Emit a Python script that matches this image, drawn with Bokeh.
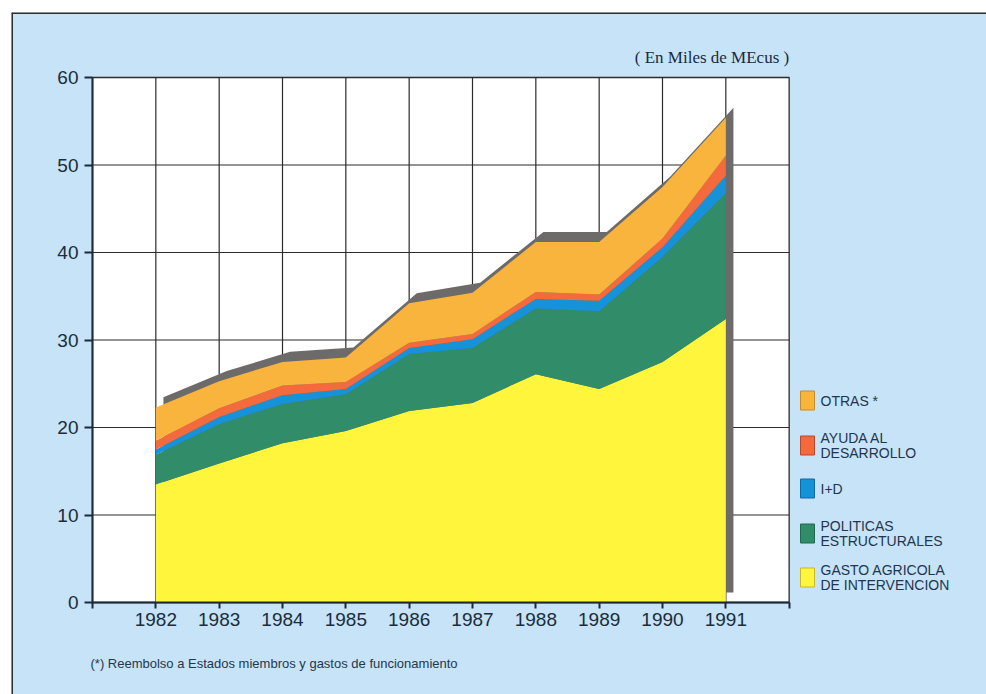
from bokeh.plotting import figure
from bokeh.models import ColumnDataSource, FixedTicker, Range1d, Span
from bokeh.core.properties import value
from bokeh.embed import file_html
from bokeh.resources import INLINE

# ---------------- data (thousands of MEcus) ----------------
YEARS = [1982, 1983, 1984, 1985, 1986, 1987, 1988, 1989, 1990, 1991]
GASTO_AGRICOLA = [13.5, 15.9, 18.2, 19.6, 21.9, 22.8, 26.1, 24.4, 27.5, 32.4]
POLITICAS_ESTRUCTURALES = [3.4, 4.5, 4.5, 4.2, 6.5, 6.3, 7.5, 8.9, 12.0, 14.4]
I_D = [0.6, 0.8, 1.0, 0.6, 0.7, 1.0, 1.1, 1.2, 1.1, 2.0]
AYUDA_DESARROLLO = [1.0, 1.0, 1.1, 0.8, 0.6, 0.6, 0.8, 0.7, 1.0, 2.3]
OTRAS = [3.8, 3.1, 2.7, 2.8, 4.5, 4.7, 5.7, 6.0, 5.9, 4.3]

X_TICKS = [1981, 1982, 1983, 1984, 1985, 1986, 1987, 1988, 1989, 1990, 1991, 1992]
Y_TICKS = [0, 10, 20, 30, 40, 50, 60]

SERIES_KEYS = ["gasto", "politicas", "id", "ayuda", "otras"]
LEGEND_LABELS = [
    ["OTRAS *"],
    ["AYUDA AL", "DESARROLLO"],
    ["I+D"],
    ["POLITICAS", "ESTRUCTURALES"],
    ["GASTO AGRICOLA", "DE INTERVENCION"],
]
UNITS_TEXT = "( En Miles de MEcus )"
FOOTNOTE = "(*) Reembolso a Estados miembros y gastos de funcionamiento"

# ---------------- styles ----------------
COLORS = ["#fff53c", "#318c69", "#1592d8", "#f46a3c", "#f9b43d"]
EDGE_COLORS = ["#c9b82a", "#1f6a4c", "#0d6aa5", "#b9482a", "#c98a2a"]
BG = "#c6e3f8"
SHADOW = "#6d6a6a"
GRID = "#2b2b2b"
TEXT = "#1f3550"

# layout (canvas pixels)
W, H = 986, 694
FRAME_LEFT, FRAME_TOP = 11, 12
AXIS_X_PX, AXIS_Y_PX = 92, 602          # canvas position of (1981, 0)
PX_PER_YEAR = 570 / 9.0
PX_PER_UNIT = 8.75

x_start = X_TICKS[0] - (AXIS_X_PX - FRAME_LEFT) / PX_PER_YEAR
x_end = x_start + (W - FRAME_LEFT) / PX_PER_YEAR
y_end = (AXIS_Y_PX - FRAME_TOP) / PX_PER_UNIT
y_start = y_end - (H - FRAME_TOP) / PX_PER_UNIT


def dx(px):
    return X_TICKS[0] + (px - AXIS_X_PX) / PX_PER_YEAR


def dy(py):
    return (AXIS_Y_PX - py) / PX_PER_UNIT


p = figure(width=W, height=H, output_backend="svg", toolbar_location=None,
           title=None,
           x_range=Range1d(x_start, x_end), y_range=Range1d(y_start, y_end),
           min_border_left=FRAME_LEFT, min_border_top=FRAME_TOP,
           min_border_right=0, min_border_bottom=0,
           border_fill_color="white", background_fill_color=BG,
           outline_line_color=None)

p.xgrid.visible = False
p.ygrid.visible = False

x_min, x_max = X_TICKS[0], X_TICKS[-1]
y_min, y_max = Y_TICKS[0], Y_TICKS[-1]

# white plotting area
p.quad(left=[x_min], right=[x_max], bottom=[y_min], top=[y_max],
       fill_color="white", line_color=GRID, line_width=1.3)

# grid lines
p.segment(x0=YEARS, x1=YEARS, y0=[y_min] * len(YEARS), y1=[y_max] * len(YEARS),
          line_color=GRID, line_width=1.2)
inner_y = Y_TICKS[1:-1]
p.segment(x0=[x_min] * len(inner_y), x1=[x_max] * len(inner_y), y0=inner_y, y1=inner_y,
          line_color=GRID, line_width=1.2)

# 3D shadow behind the stack
series = [GASTO_AGRICOLA, POLITICAS_ESTRUCTURALES, I_D, AYUDA_DESARROLLO, OTRAS]
totals = [sum(v) for v in zip(*series)]
SH_DX, SH_DY = 0.12, 1.15
p.varea(x=[y + SH_DX for y in YEARS], y1=[SH_DY] * len(YEARS),
        y2=[t + SH_DY for t in totals], fill_color=SHADOW)

# stacked areas
src = ColumnDataSource(dict(year=YEARS, gasto=GASTO_AGRICOLA, politicas=POLITICAS_ESTRUCTURALES,
                            id=I_D, ayuda=AYUDA_DESARROLLO, otras=OTRAS))
p.varea_stack(stackers=SERIES_KEYS, x="year", color=COLORS, source=src)

# axes
ax = p.xaxis[0]
ax.fixed_location = y_min
ax.bounds = (x_min, x_max)
ax.ticker = FixedTicker(ticks=X_TICKS)
ax.major_label_overrides = {X_TICKS[0]: "", X_TICKS[-1]: ""}
ay = p.yaxis[0]
ay.fixed_location = x_min
ay.bounds = (y_min, y_max)
ay.ticker = FixedTicker(ticks=Y_TICKS)
for a in (ax, ay):
    a.axis_line_color = "#1c2a38"
    a.axis_line_width = 2
    a.major_tick_line_color = "#1c2a38"
    a.major_tick_line_width = 2
    a.major_tick_in = 0
    a.minor_tick_line_color = None
    a.major_label_text_font = "Liberation Sans"
    a.major_label_text_font_size = "19px"
    a.major_label_text_color = "#1c2c3c"
ax.major_tick_out = 6
ax.major_label_standoff = 4
ay.major_tick_out = 8
ay.major_label_standoff = 6

# legend (drawn at the right of the plotting area)
leg_x = dx(807)
leg_text_x = dx(820)
leg_y = [dy(v) for v in (400, 445, 488, 533, 577)]
legend_colors = COLORS[::-1]
legend_edges = EDGE_COLORS[::-1]
p.rect(x=[leg_x] * 5, y=leg_y, width=14, height=19, width_units="screen",
       height_units="screen", fill_color=legend_colors, line_color=legend_edges, line_width=1)
tx, ty, tt = [], [], []
line_off = 7.8 / PX_PER_UNIT
for yc, lines in zip(leg_y, LEGEND_LABELS):
    if len(lines) == 1:
        tx.append(leg_text_x); ty.append(yc); tt.append(lines[0])
    else:
        tx += [leg_text_x, leg_text_x]
        ty += [yc + line_off, yc - line_off]
        tt += lines
p.text(x=tx, y=ty, text=tt, text_font=value("Liberation Sans"), text_font_size="14px",
       text_align="left", text_baseline="middle", text_color=TEXT)

# units caption and footnote
p.text(x=[x_max], y=[dy(57)], text=[UNITS_TEXT],
       text_font=value("Liberation Serif"), text_font_size="17px",
       text_align="right", text_baseline="middle", text_color="#1a2a3f")
p.text(x=[dx(90)], y=[dy(663)], text=[FOOTNOTE],
       text_font=value("Liberation Sans"), text_font_size="13px",
       text_align="left", text_baseline="middle", text_color="#24384c")

# outer frame lines (top and left)
p.add_layout(Span(location=x_start, dimension="height", line_color="#2e2e2e", line_width=3))
p.add_layout(Span(location=y_end, dimension="width", line_color="#2e2e2e", line_width=3))

open("out.html", "w").write(file_html(p, INLINE))
